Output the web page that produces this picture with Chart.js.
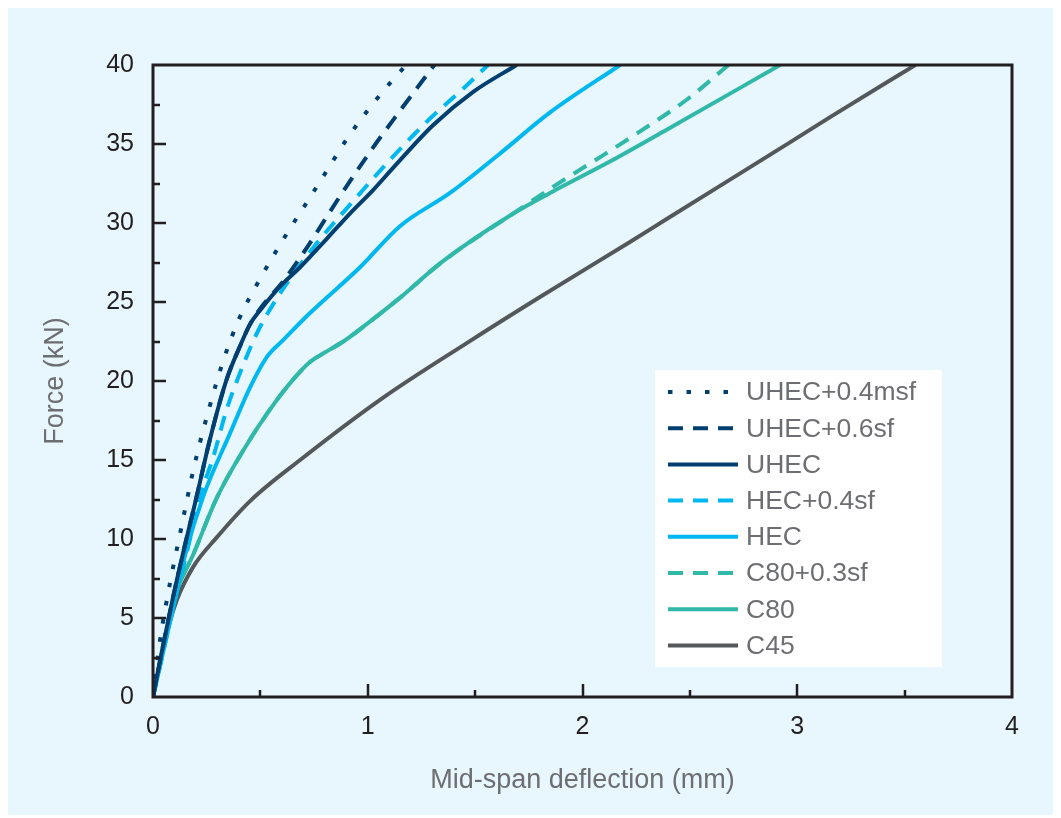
<!DOCTYPE html>
<html>
<head>
<meta charset="utf-8">
<title>Force vs mid-span deflection</title>
<script src="https://cdn.jsdelivr.net/npm/chart.js@4.4.0/dist/chart.umd.min.js"></script>
<style>
  html, body { margin: 0; padding: 0; background: #ffffff; }
  #wrap { width: 1061px; height: 818px; }
</style>
</head>
<body>
<div id="wrap"><canvas id="forceChart" width="1061" height="818"></canvas></div>
<script>
// Load-deflection curves (deflection in mm, force in kN)

const SERIES_LABELS = ['UHEC+0.4msf', 'UHEC+0.6sf', 'UHEC', 'HEC+0.4sf', 'HEC', 'C80+0.3sf', 'C80', 'C45'];

const UHEC_MSF_DEF   = [0, 0.033, 0.079, 0.13, 0.19, 0.26, 0.33, 0.40, 0.50, 0.622, 0.716, 0.809, 0.902, 1.01, 1.119, 1.18];
const UHEC_MSF_FORCE = [0, 3.6, 7.2, 10.6, 14.5, 18.2, 21.4, 23.9, 26.5, 29.3, 31.3, 33.3, 35.3, 37.3, 39.1, 40];

const UHEC_SF_DEF    = [0, 0.04, 0.09, 0.145, 0.2, 0.265, 0.343, 0.405, 0.452, 0.50, 0.60, 0.70, 0.871, 1.026, 1.15, 1.31];
const UHEC_SF_FORCE  = [0, 2.8, 6.1, 9.4, 12.5, 16.3, 20.1, 22.2, 23.6, 24.6, 26.2, 28.1, 31.7, 34.8, 37.1, 40];

const UHEC_DEF       = [0, 0.04, 0.09, 0.145, 0.2, 0.265, 0.343, 0.405, 0.452, 0.50, 0.60, 0.685, 0.809, 0.917, 1.026, 1.119, 1.305, 1.491, 1.693];
const UHEC_FORCE     = [0, 2.8, 6.1, 9.4, 12.5, 16.3, 20.1, 22.2, 23.6, 24.5, 26.1, 27.2, 29.0, 30.6, 32.1, 33.5, 36.2, 38.3, 40];

const HEC_SF_DEF     = [0, 0.05, 0.1, 0.16, 0.219, 0.281, 0.343, 0.405, 0.483, 0.58, 0.75, 0.933, 1.104, 1.274, 1.444, 1.56];
const HEC_SF_FORCE   = [0, 3.0, 6.0, 9.3, 12.7, 15.2, 18.2, 20.5, 23.0, 25.3, 28.5, 31.4, 34.0, 36.4, 38.5, 40];

const HEC_DEF        = [0, 0.05, 0.1, 0.15, 0.234, 0.359, 0.452, 0.529, 0.607, 0.731, 0.964, 1.15, 1.383, 1.616, 1.849, 2.175];
const HEC_FORCE      = [0, 3.0, 6.0, 9.0, 12.7, 16.7, 19.6, 21.5, 22.6, 24.3, 27.2, 29.8, 31.9, 34.4, 37.0, 40];

const C80_SF_DEF     = [0, 0.05, 0.1, 0.19, 0.297, 0.42, 0.545, 0.653, 0.731, 0.80, 0.886, 0.995, 1.135, 1.352, 1.678, 1.864, 2.074, 2.268, 2.485, 2.68];
const C80_SF_FORCE   = [0, 3.3, 6.3, 9.1, 12.6, 15.6, 18.2, 20.1, 21.2, 21.8, 22.5, 23.6, 25.1, 27.6, 30.6, 32.3, 34.1, 35.8, 37.8, 40];

const C80_DEF        = [0, 0.05, 0.1, 0.19, 0.297, 0.42, 0.545, 0.653, 0.731, 0.80, 0.886, 0.995, 1.135, 1.352, 1.678, 1.849, 2.143, 2.392, 2.92];
const C80_FORCE      = [0, 3.3, 6.3, 9.1, 12.6, 15.6, 18.2, 20.1, 21.2, 21.8, 22.5, 23.6, 25.1, 27.6, 30.6, 31.9, 34.0, 35.9, 40];

const C45_DEF        = [0, 0.056, 0.11, 0.188, 0.297, 0.452, 0.685, 1.072, 1.461, 1.80, 2.221, 2.392, 2.966, 3.153, 3.55];
const C45_FORCE      = [0, 3.6, 6.1, 8.25, 10.1, 12.4, 15.0, 18.95, 22.4, 25.3, 28.8, 30.25, 35.1, 36.7, 40];

const X_TICK_STEP = 1;
const Y_TICK_STEP = 5;

const NAVY = '#003f70';
const SKY = '#00b8f0';
const TEAL = '#30b8a9';
const GREY = '#54585b';

function toPoints(xs, ys) {
    return xs.map((x, i) => ({ x: x, y: ys[i] }));
}

function curve(label, xs, ys, color, dash) {
    return {
        label: label,
        data: toPoints(xs, ys),
        borderColor: color,
        backgroundColor: color,
        borderWidth: 4,
        borderDash: dash,
        borderCapStyle: 'butt',
        pointRadius: 0,
        fill: false,
        cubicInterpolationMode: 'monotone',
    };
}

const DOTS = [4.5, 14];
const DASH = [15, 10];

// white page with the light blue panel behind everything
const panelBackground = {
    id: 'panelBackground',
    beforeDraw(chart) {
        const ctx = chart.ctx;
        ctx.save();
        ctx.fillStyle = '#ffffff';
        ctx.fillRect(0, 0, chart.width, chart.height);
        ctx.fillStyle = '#e8f6fd';
        ctx.fillRect(8, 8, chart.width - 16, chart.height - 11);
        ctx.restore();
    },
};

// box frame with inward ticks on the left and bottom
const axisFrame = {
    id: 'axisFrame',
    afterDatasetsDraw(chart) {
        const { ctx, chartArea: a, scales } = chart;
        const xs = scales.x, ys = scales.y;
        ctx.save();
        ctx.strokeStyle = '#231f20';
        ctx.lineWidth = 2.5;
        ctx.beginPath();
        for (let v = xs.min + X_TICK_STEP / 2; v < xs.max; v += X_TICK_STEP / 2) {
            const px = Math.round(xs.getPixelForValue(v));
            const len = Math.abs(v % X_TICK_STEP) < 1e-9 ? 13 : 7;
            ctx.moveTo(px, a.bottom);
            ctx.lineTo(px, a.bottom - len);
        }
        for (let v = ys.min + Y_TICK_STEP / 2; v < ys.max; v += Y_TICK_STEP / 2) {
            const py = Math.round(ys.getPixelForValue(v));
            const len = Math.abs(v % Y_TICK_STEP) < 1e-9 ? 13 : 7;
            ctx.moveTo(a.left, py);
            ctx.lineTo(a.left + len, py);
        }
        ctx.stroke();
        ctx.lineWidth = 3;
        ctx.strokeRect(a.left, a.top, a.right - a.left, a.bottom - a.top);
        ctx.restore();
    },
};

// legend in a white box inside the plot
const insetLegend = {
    id: 'insetLegend',
    afterDraw(chart) {
        const { ctx, chartArea: a } = chart;
        const boxX = a.right - 357, boxY = a.top + 305;
        const rowH = 36.2;
        ctx.save();
        ctx.fillStyle = '#ffffff';
        ctx.fillRect(boxX, boxY, 287, 297);
        ctx.font = '26.5px "Liberation Sans", Arial, sans-serif';
        ctx.textBaseline = 'middle';
        chart.data.datasets.forEach((ds, i) => {
            const y = boxY + 22 + i * rowH;
            ctx.strokeStyle = ds.borderColor;
            ctx.lineWidth = 4;
            ctx.lineCap = 'butt';
            ctx.setLineDash(ds.borderDash || []);
            ctx.beginPath();
            ctx.moveTo(boxX + 13, y);
            ctx.lineTo(boxX + 83, y);
            ctx.stroke();
            ctx.setLineDash([]);
            ctx.fillStyle = '#6d6e71';
            ctx.fillText(ds.label, boxX + 91, y + 1);
        });
        ctx.restore();
    },
};

const tickFont = { family: '"Liberation Sans", Arial, sans-serif', size: 25 };
const titleFont = { family: '"Liberation Sans", Arial, sans-serif', size: 27 };

new Chart(document.getElementById('forceChart').getContext('2d'), {
    type: 'line',
    data: {
        datasets: [
            curve(SERIES_LABELS[0], UHEC_MSF_DEF, UHEC_MSF_FORCE, NAVY, DOTS),
            curve(SERIES_LABELS[1], UHEC_SF_DEF, UHEC_SF_FORCE, NAVY, DASH),
            curve(SERIES_LABELS[2], UHEC_DEF, UHEC_FORCE, NAVY, []),
            curve(SERIES_LABELS[3], HEC_SF_DEF, HEC_SF_FORCE, SKY, DASH),
            curve(SERIES_LABELS[4], HEC_DEF, HEC_FORCE, SKY, []),
            curve(SERIES_LABELS[5], C80_SF_DEF, C80_SF_FORCE, TEAL, DASH),
            curve(SERIES_LABELS[6], C80_DEF, C80_FORCE, TEAL, []),
            curve(SERIES_LABELS[7], C45_DEF, C45_FORCE, GREY, []),
        ],
    },
    options: {
        responsive: false,
        animation: false,
        devicePixelRatio: 1,
        layout: { padding: { left: 0, top: 65, right: 49, bottom: 0 } },
        plugins: {
            legend: { display: false },
            tooltip: { enabled: false },
        },
        scales: {
            x: {
                type: 'linear',
                min: 0,
                max: 4,
                afterFit(scale) { scale.height = 121; },
                grid: { display: false, drawTicks: false },
                border: { display: false },
                ticks: { stepSize: X_TICK_STEP, color: '#231f20', font: tickFont, padding: 15, maxRotation: 0 },
                title: {
                    display: true,
                    text: 'Mid-span deflection (mm)',
                    color: '#6d6e71',
                    font: titleFont,
                    padding: { top: 0, bottom: 21 },
                },
            },
            y: {
                type: 'linear',
                min: 0,
                max: 40,
                afterFit(scale) { scale.width = 153; },
                grid: { display: false, drawTicks: false },
                border: { display: false },
                ticks: { stepSize: Y_TICK_STEP, color: '#231f20', font: tickFont, padding: 19 },
                title: {
                    display: true,
                    text: 'Force (kN)',
                    color: '#6d6e71',
                    font: titleFont,
                    padding: { top: 39, bottom: 0 },
                },
            },
        },
    },
    plugins: [panelBackground, axisFrame, insetLegend],
});
</script>
</body>
</html>
